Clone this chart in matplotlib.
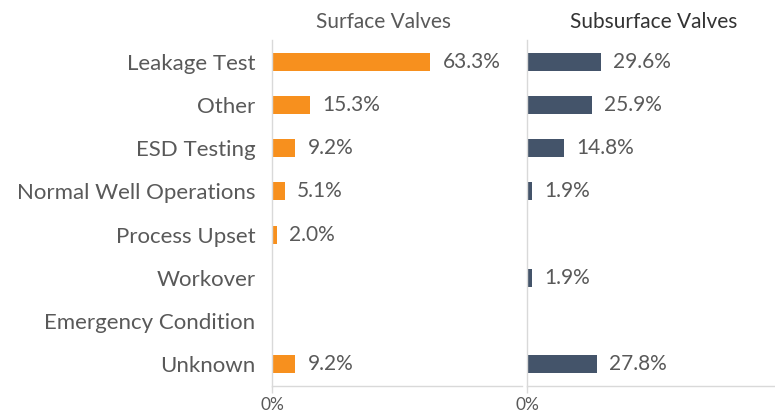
import matplotlib
matplotlib.use("Agg")
import matplotlib.pyplot as plt

categories = ["Leakage Test", "Other", "ESD Testing", "Normal Well Operations",
              "Process Upset", "Workover", "Emergency Condition", "Unknown"]
surface = [63.3, 15.3, 9.2, 5.1, 2.0, 0, 0, 9.2]
subsurface = [29.6, 25.9, 14.8, 1.9, 0, 1.9, 0, 27.8]

plt.rcParams["font.family"] = ["Lato", "DejaVu Sans"]
txt = "#595959"
grid = "#d9d9d9"

fig = plt.figure(figsize=(7.75, 4.15), dpi=100)
W, H = 775, 415
ax1 = fig.add_axes([272 / W, (H - 386) / H, 250 / W, 346 / H])
ax2 = fig.add_axes([527 / W, (H - 386) / H, 250 / W, 346 / H])

y = range(len(categories))
for ax, vals, color in [(ax1, surface, "#f7901e"), (ax2, subsurface, "#44546a")]:
    ax.barh(y, vals, height=0.42, color=color)
    for i, v in enumerate(vals):
        if v > 0:
            ax.text(v + 5, i, f"{v:.1f}%", va="center", ha="left",
                    fontsize=15, color=txt)
    ax.set_xlim(0, 100)
    ax.set_ylim(len(categories) - 0.5, -0.5)
    ax.set_xticks([0])
    ax.set_xticklabels(["0%"])
    ax.tick_params(axis="x", colors=grid, labelcolor=txt, labelsize=12.5,
                   length=5, width=1, pad=3)
    ax.tick_params(axis="y", length=0)
    for s in ["top", "right"]:
        ax.spines[s].set_visible(False)
    for s in ["left", "bottom"]:
        ax.spines[s].set_color(grid)
        ax.spines[s].set_linewidth(1)
    ax.set_facecolor("none")

ax1.set_yticks(list(y))
ax1.set_yticklabels(categories, fontsize=16, color=txt)
ax1.tick_params(axis="y", pad=12)
ax2.set_yticks([])

fig.text(383 / W, 1 - 22 / H, "Surface Valves", ha="center", va="center",
         fontsize=15, color=txt)
fig.text(654 / W, 1 - 22 / H, "Subsurface Valves", ha="center", va="center",
         fontsize=15, color="#333333")

fig.savefig("out.png", dpi=100)
